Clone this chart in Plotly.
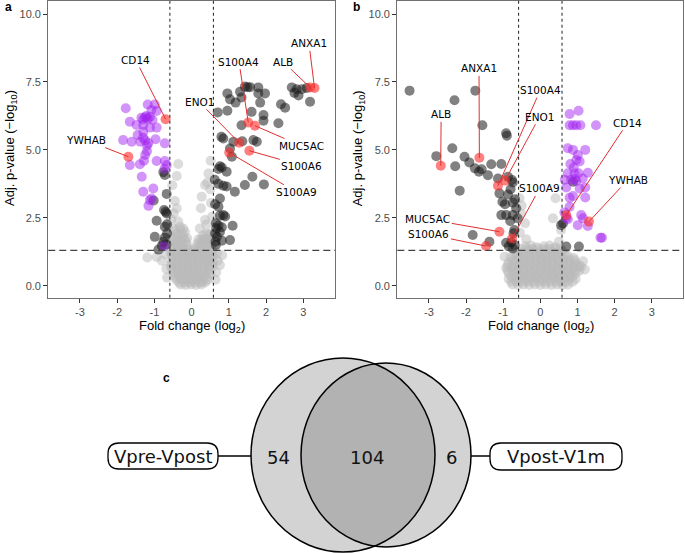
import plotly.graph_objects as go

W, H = 685, 553

# ---------------- DATA ----------------
# Panel a (Vpre-Vpost): fold change (log2), adj. p-value (-log10)
a_gray = [
    (-0.36, 4.48), (-0.40, 4.04), (0.51, 4.60), (0.45, 4.13), (0.36, 3.71), (0.42, 3.80), (0.27, 3.28),
    (-0.45, 3.12), (-0.40, 2.85), (-0.48, 2.66), (0.25, 2.85), (0.36, 2.42), (0.22, 2.11), (0.40, 2.25),
    (-0.31, 2.17), (-0.36, 2.36), (0.52, 3.05), (0.55, 2.55), (-0.55, 2.45), (0.50, 3.55), (-0.52, 3.70),
    (-0.45, 2.02), (-0.30, 2.05), (-0.18, 1.98), (0.30, 1.85), (0.45, 1.90),
    (-0.52, 1.80), (-0.38, 1.82), (-0.24, 1.78), (-0.12, 1.75), (0.18, 1.70), (0.32, 1.72), (0.46, 1.68), (0.55, 1.75),
    (-0.55, 1.60), (-0.42, 1.62), (-0.28, 1.58), (-0.15, 1.60), (0.15, 1.55), (0.28, 1.58), (0.42, 1.60), (0.55, 1.55),
    (-0.50, 1.40), (-0.36, 1.42), (-0.22, 1.38), (-0.08, 1.35), (0.10, 1.38), (0.24, 1.42), (0.38, 1.40), (0.52, 1.42),
    (-0.56, 1.22), (-0.42, 1.20), (-0.28, 1.18), (-0.14, 1.20), (0.00, 1.18), (0.14, 1.22), (0.28, 1.20), (0.42, 1.18), (0.56, 1.22),
    (-0.50, 1.00), (-0.36, 1.02), (-0.22, 0.98), (-0.08, 1.00), (0.06, 1.02), (0.20, 0.98), (0.34, 1.00), (0.48, 1.02),
    (-0.56, 0.80), (-0.42, 0.82), (-0.28, 0.78), (-0.14, 0.80), (0.00, 0.82), (0.14, 0.78), (0.28, 0.80), (0.42, 0.82), (0.56, 0.78),
    (-0.52, 0.60), (-0.38, 0.62), (-0.24, 0.58), (-0.10, 0.60), (0.04, 0.62), (0.18, 0.58), (0.32, 0.60), (0.46, 0.62),
    (-0.48, 0.40), (-0.34, 0.42), (-0.20, 0.38), (-0.06, 0.40), (0.08, 0.42), (0.22, 0.38), (0.36, 0.40), (0.50, 0.42),
    (-0.40, 0.20), (-0.26, 0.22), (-0.12, 0.18), (0.02, 0.20), (0.16, 0.22), (0.30, 0.18), (0.42, 0.20),
    (-0.30, 0.05), (-0.16, 0.03), (-0.02, 0.05), (0.12, 0.03), (0.26, 0.05),
    (-0.33, 0.12), (-0.19, 0.12), (-0.05, 0.12), (0.09, 0.12), (0.23, 0.12), (0.36, 0.12),
    (-0.44, 0.30), (-0.30, 0.30), (-0.16, 0.30), (-0.02, 0.30), (0.12, 0.30), (0.26, 0.30), (0.40, 0.30),
    (-0.50, 0.50), (-0.36, 0.50), (-0.22, 0.50), (-0.08, 0.50), (0.06, 0.50), (0.20, 0.50), (0.34, 0.50), (0.48, 0.50),
    (-0.55, 0.70), (-0.40, 0.70), (-0.26, 0.70), (-0.12, 0.70), (0.02, 0.70), (0.16, 0.70), (0.30, 0.70), (0.44, 0.70), (0.56, 0.70),
    (-0.53, 0.90), (-0.39, 0.90), (-0.25, 0.90), (-0.11, 0.90), (0.03, 0.90), (0.17, 0.90), (0.31, 0.90), (0.45, 0.90), (0.57, 0.90),
    (-0.53, 1.10), (-0.39, 1.10), (-0.25, 1.10), (-0.11, 1.10), (0.03, 1.10), (0.17, 1.10), (0.31, 1.10), (0.45, 1.10), (0.58, 1.10),
    (-0.53, 1.30), (-0.39, 1.30), (-0.25, 1.30), (-0.11, 1.30), (0.03, 1.30), (0.17, 1.30), (0.31, 1.30), (0.45, 1.30), (0.57, 1.30),
    (-0.53, 1.50), (-0.40, 1.50), (-0.26, 1.50), (-0.12, 1.50), (0.20, 1.50), (0.34, 1.50), (0.48, 1.50),
    (-0.46, 1.70), (-0.31, 1.70), (-0.18, 1.70), (0.25, 1.70), (0.39, 1.70), (0.52, 1.70),
    (-0.40, 1.90), (-0.25, 1.90), (0.38, 1.90), (0.52, 1.90), (-0.48, 2.10), (-0.22, 2.10),
    (-1.19, 1.04), (-0.94, 1.06), (-0.80, 0.92), (-0.68, 0.62), (-0.66, 0.30), (0.70, 0.92), (0.76, 0.76),
    (0.66, 0.50), (0.82, 1.12), (0.64, 0.22), (-0.70, 1.15), (0.68, 1.20),
]
a_black = [
    (-0.76, 4.18), (-0.72, 4.08), (-1.02, 3.14), (-0.67, 3.38), (-0.74, 2.79), (-0.67, 2.66), (-0.94, 2.39),
    (-0.72, 2.17), (-0.66, 2.26), (-0.99, 1.80), (-0.76, 1.62), (-0.80, 1.47), (-0.68, 1.52), (-0.89, 1.33),
    (-0.72, 1.77), (-0.66, 1.92), (-0.70, 2.72),
    (0.96, 7.08), (1.30, 7.14), (1.43, 7.33), (1.50, 7.31), (1.57, 7.31), (1.79, 7.30), (1.97, 7.08), (1.79, 7.08),
    (1.03, 6.86), (1.18, 6.74), (1.84, 6.74), (1.34, 6.93), (2.69, 7.30), (2.82, 7.23), (2.96, 7.23), (3.09, 7.28),
    (2.76, 7.10), (2.87, 7.00), (3.18, 6.77), (2.40, 6.68), (2.51, 6.55), (0.70, 6.38), (0.96, 6.44), (1.61, 6.40),
    (1.93, 6.28), (1.93, 6.07), (2.33, 5.98), (1.34, 5.91), (0.85, 5.42), (0.80, 5.48), (1.12, 5.30), (1.36, 5.32),
    (1.66, 5.36), (1.75, 5.30), (1.03, 5.05), (1.08, 4.75), (0.76, 4.40), (0.81, 4.35), (0.72, 4.30), (0.94, 4.20),
    (1.63, 4.01), (0.62, 3.90), (0.72, 3.75), (0.85, 3.68), (0.94, 3.65), (1.16, 3.46), (1.43, 3.71), (1.94, 3.73),
    (0.76, 3.21), (0.63, 3.00), (0.72, 2.91), (0.85, 2.60), (0.90, 2.55), (0.76, 2.58), (0.65, 2.30), (0.72, 2.22),
    (0.81, 2.15), (0.66, 2.12), (1.10, 2.21), (0.76, 1.98), (0.63, 1.92), (0.68, 1.80), (1.03, 1.68), (0.81, 1.66),
    (0.64, 1.62), (0.65, 1.50),
]
a_purple = [
    (-1.77, 6.53), (-1.18, 6.67), (-0.99, 6.67), (-1.08, 6.47), (-0.94, 6.43), (-1.35, 6.18), (-1.25, 6.20),
    (-1.18, 6.15), (-1.12, 6.22), (-1.30, 6.12), (-1.05, 6.10), (-1.22, 6.25), (-1.66, 6.04), (-1.48, 5.92),
    (-1.30, 5.92), (-1.12, 5.82), (-0.94, 5.82), (-1.30, 5.67), (-1.84, 5.36), (-1.61, 5.30), (-1.38, 5.30),
    (-1.25, 5.35), (-1.16, 5.25), (-1.20, 5.15), (-0.97, 5.39), (-0.72, 5.24), (-1.25, 4.81), (-1.66, 4.44),
    (-1.39, 4.47), (-0.94, 4.59), (-0.72, 4.59), (-0.67, 4.44), (-1.34, 4.01), (-1.30, 3.46), (-1.03, 3.58),
    (-1.12, 3.15), (-1.16, 2.94), (-1.08, 3.21), (-1.30, 5.45), (-1.45, 5.55), (-0.75, 1.45), (-0.73, 4.30),
    (-1.20, 4.95), (-1.28, 4.60),
]
a_red_names = ["CD14", "YWHAB", "S100A4", "MUC5AC", "ENO1", "S100A6", "S100A9", "ALB", "ANXA1"]
a_red_x = [-0.70, -1.70, 1.52, 1.70, 1.28, 1.55, 1.01, 3.18, 3.30]
a_red_y = [6.13, 4.75, 6.01, 5.89, 5.26, 4.97, 4.90, 7.30, 7.28]

# Panel b (Vpost-V1m)
b_gray = [
    (-0.56, 3.22), (-0.52, 2.66), (0.41, 3.22), (0.34, 2.48), (-0.41, 2.30), (0.56, 2.05), (-0.38, 1.71),
    (-0.55, 1.95), (0.50, 1.62), (-0.50, 2.95),
    (-0.40, 1.45), (-0.25, 1.48), (-0.10, 1.42), (0.10, 1.45), (0.25, 1.48), (0.40, 1.42),
    (-0.60, 1.25), (-0.45, 1.22), (-0.30, 1.28), (-0.15, 1.25), (0.00, 1.22), (0.15, 1.28), (0.30, 1.25), (0.45, 1.22), (0.60, 1.28),
    (-0.80, 1.05), (-0.62, 1.08), (-0.46, 1.02), (-0.30, 1.05), (-0.15, 1.08), (0.00, 1.02), (0.15, 1.05), (0.30, 1.08),
    (0.45, 1.02), (0.60, 1.05), (0.75, 1.08), (0.90, 1.02),
    (-0.85, 0.85), (-0.70, 0.88), (-0.55, 0.82), (-0.40, 0.85), (-0.25, 0.88), (-0.10, 0.82), (0.05, 0.85), (0.20, 0.88),
    (0.35, 0.82), (0.50, 0.85), (0.65, 0.88), (0.80, 0.82), (0.95, 0.85),
    (-0.92, 0.65), (-0.77, 0.68), (-0.62, 0.62), (-0.47, 0.65), (-0.32, 0.68), (-0.17, 0.62), (-0.02, 0.65), (0.13, 0.68),
    (0.28, 0.62), (0.43, 0.65), (0.58, 0.68), (0.73, 0.62), (0.88, 0.65), (1.03, 0.68), (1.10, 0.70),
    (-0.85, 0.45), (-0.70, 0.48), (-0.55, 0.42), (-0.40, 0.45), (-0.25, 0.48), (-0.10, 0.42), (0.05, 0.45), (0.20, 0.48),
    (0.35, 0.42), (0.50, 0.45), (0.65, 0.48), (0.80, 0.42), (0.95, 0.45),
    (-0.85, 0.25), (-0.70, 0.25), (-0.55, 0.28), (-0.40, 0.22), (-0.25, 0.25), (-0.10, 0.28), (0.05, 0.22), (0.20, 0.25),
    (0.35, 0.28), (0.50, 0.22), (0.65, 0.25), (0.80, 0.28), (0.95, 0.25),
    (-0.75, 0.05), (-0.60, 0.03), (-0.45, 0.05), (-0.30, 0.03), (-0.15, 0.05), (0.00, 0.03), (0.15, 0.05), (0.30, 0.03),
    (0.45, 0.05), (0.60, 0.03), (0.75, 0.05),
    (-0.78, 0.15), (-0.63, 0.15), (-0.48, 0.15), (-0.33, 0.15), (-0.18, 0.15), (-0.03, 0.15), (0.12, 0.15), (0.27, 0.15),
    (0.42, 0.15), (0.57, 0.15), (0.72, 0.15), (0.87, 0.15),
    (-0.78, 0.35), (-0.63, 0.35), (-0.48, 0.35), (-0.33, 0.35), (-0.18, 0.35), (-0.03, 0.35), (0.12, 0.35), (0.27, 0.35),
    (0.42, 0.35), (0.57, 0.35), (0.72, 0.35), (0.87, 0.35),
    (-0.88, 0.55), (-0.73, 0.55), (-0.58, 0.55), (-0.43, 0.55), (-0.28, 0.55), (-0.13, 0.55), (0.02, 0.55), (0.17, 0.55),
    (0.32, 0.55), (0.47, 0.55), (0.62, 0.55), (0.77, 0.55), (0.92, 0.55), (1.05, 0.55),
    (-0.88, 0.75), (-0.73, 0.75), (-0.58, 0.75), (-0.43, 0.75), (-0.28, 0.75), (-0.13, 0.75), (0.02, 0.75), (0.17, 0.75),
    (0.32, 0.75), (0.47, 0.75), (0.62, 0.75), (0.77, 0.75), (0.92, 0.75), (1.05, 0.75),
    (-0.75, 0.95), (-0.58, 0.95), (-0.43, 0.95), (-0.28, 0.95), (-0.13, 0.95), (0.02, 0.95), (0.17, 0.95), (0.32, 0.95),
    (0.47, 0.95), (0.62, 0.95), (0.77, 0.95), (0.92, 0.95),
    (-0.70, 1.15), (-0.53, 1.15), (-0.38, 1.15), (-0.23, 1.15), (-0.08, 1.15), (0.07, 1.15), (0.22, 1.15), (0.37, 1.15),
    (0.52, 1.15), (0.68, 1.15),
    (-0.50, 1.35), (-0.35, 1.35), (-0.20, 1.35), (-0.05, 1.35), (0.10, 1.35), (0.25, 1.35), (0.40, 1.35), (0.55, 1.35),
    (-0.96, 1.07), (1.20, 0.60), (1.15, 0.90),
]
b_black = [
    (-3.52, 7.18), (-2.31, 6.83), (-1.75, 7.18), (-1.56, 5.91), (-0.92, 5.61), (-0.90, 5.52), (-2.80, 4.77),
    (-2.37, 5.06), (-2.04, 4.75), (-1.91, 4.54), (-2.29, 4.40), (-1.76, 4.32), (-1.65, 4.20), (-1.58, 4.29),
    (-1.32, 4.47), (-1.05, 4.48), (-1.41, 4.07), (-1.14, 3.95), (-2.17, 3.50), (-0.87, 4.01), (-0.76, 3.89),
    (-0.74, 3.80), (-1.10, 3.40), (-0.87, 3.36), (-0.68, 3.18), (-1.02, 3.09), (-0.74, 3.06), (-1.05, 2.60),
    (-0.92, 2.60), (-0.74, 2.60), (-0.81, 2.38), (-0.61, 2.48), (-0.70, 2.05), (-0.72, 1.93), (-1.82, 1.87),
    (-1.37, 1.62), (-0.92, 1.58), (-0.78, 1.60), (-0.69, 1.50), (-0.74, 1.37), (-0.85, 1.45), (0.61, 2.29),
    (0.70, 1.44), (1.04, 1.44), (0.56, 2.23), (0.88, 3.83), (-0.80, 3.55), (-0.95, 3.00), (-0.65, 2.85),
]
b_purple = [
    (0.79, 6.32), (1.03, 6.44), (0.79, 5.91), (0.88, 5.91), (0.97, 5.91), (1.08, 5.91), (1.50, 5.91),
    (0.74, 5.06), (0.88, 5.00), (1.21, 5.00), (1.01, 4.81), (0.97, 4.63), (0.81, 4.48), (1.06, 4.57),
    (0.74, 4.14), (0.92, 4.14), (1.03, 4.14), (1.28, 4.16), (0.83, 3.90), (0.93, 3.92), (0.97, 3.85),
    (1.14, 3.95), (0.70, 3.62), (1.06, 3.58), (1.21, 3.62), (0.79, 3.24), (1.21, 3.25), (0.79, 2.91),
    (1.10, 2.60), (0.74, 2.45), (1.01, 2.23), (1.28, 2.20), (1.15, 2.48), (1.62, 1.77), (1.66, 1.77),
    (0.70, 2.50), (0.66, 3.90), (0.88, 3.30), (0.90, 4.35), (0.65, 2.70),
]
b_red_names = ["ALB", "ANXA1", "S100A4", "ENO1", "MUC5AC", "S100A6", "S100A9", "CD14", "YWHAB"]
b_red_x = [-2.68, -1.64, -1.14, -0.95, -1.10, -1.46, -0.76, 0.70, 1.31]
b_red_y = [4.42, 4.71, 3.68, 3.87, 1.99, 1.46, 1.74, 2.60, 2.36]

fc_cut = 0.585       # log2(1.5)
p_cut = 1.301        # -log10(0.05)

venn_sets = ["Vpre-Vpost", "Vpost-V1m"]
venn_counts = [54, 104, 6]   # only left, both, only right

x_ticks = [-3, -2, -1, 0, 1, 2, 3]
y_ticks = [0, 2.5, 5, 7.5, 10]
y_ticktext = ["0.0", "2.5", "5.0", "7.5", "10.0"]

# ---------------- LAYOUT HELPERS ----------------
def fx(px):
    return px / W

def fy(py):
    return 1 - py / H

label_pos_a = {  # text centre (data coords)
    "ANXA1": (3.15, 8.92), "ALB": (2.45, 8.25), "S100A4": (1.27, 8.25), "CD14": (-1.50, 8.31),
    "ENO1": (0.20, 6.77), "YWHAB": (-2.84, 5.36), "MUC5AC": (2.96, 5.14), "S100A6": (2.96, 4.42),
    "S100A9": (2.82, 3.44),
}
label_pos_b = {
    "ANXA1": (-1.65, 8.00), "ALB": (-2.67, 6.31), "S100A4": (0.00, 7.20), "ENO1": (-0.02, 6.22),
    "S100A9": (-0.02, 3.58), "MUC5AC": (-3.03, 2.45), "S100A6": (-3.00, 1.89), "CD14": (2.35, 6.00),
    "YWHAB": (2.35, 3.89),
}

fig = go.Figure()

def add_points(pts, xa, ya, color, opacity):
    fig.add_trace(go.Scatter(
        x=[p[0] for p in pts], y=[p[1] for p in pts], mode="markers",
        xaxis=xa, yaxis=ya, hoverinfo="skip", showlegend=False,
        marker=dict(size=10, color=color, opacity=opacity, line=dict(width=0)),
    ))

GRAY, BLACK, PURPLE, RED = "rgb(185,185,185)", "rgb(25,25,25)", "#A020F0", "#FF2A2A"

for pts_g, pts_k, pts_p, rx, ry, xa, ya in [
    (a_gray, a_black, a_purple, a_red_x, a_red_y, "x", "y"),
    (b_gray, b_black, b_purple, b_red_x, b_red_y, "x2", "y2"),
]:
    add_points(pts_g, xa, ya, GRAY, 0.5)
    add_points(pts_k, xa, ya, BLACK, 0.55)
    add_points(pts_p, xa, ya, PURPLE, 0.48)
    add_points(list(zip(rx, ry)), xa, ya, RED, 0.6)

shapes = []
annotations = []

for xa, ya in [("x", "y"), ("x2", "y2")]:
    for v in (-fc_cut, fc_cut):
        shapes.append(dict(type="line", xref=xa, yref=ya + " domain", x0=v, x1=v, y0=0, y1=1,
                           line=dict(color="#333333", width=1.1, dash="3px,3px"), layer="above"))
    shapes.append(dict(type="line", xref=xa + " domain", yref=ya, x0=0, x1=1, y0=p_cut, y1=p_cut,
                       line=dict(color="#444444", width=1.1, dash="7px,4px"), layer="above"))

LABEL_FONT = dict(family="DejaVu Sans, Verdana, sans-serif", size=10.5, color="black")
for names, rx, ry, pos, xa, ya in [
    (a_red_names, a_red_x, a_red_y, label_pos_a, "x", "y"),
    (b_red_names, b_red_x, b_red_y, label_pos_b, "x2", "y2"),
]:
    for n, px_, py_ in zip(names, rx, ry):
        tx, ty = pos[n]
        annotations.append(dict(x=px_, y=py_, xref=xa, yref=ya, ax=tx, ay=ty, axref=xa, ayref=ya,
                                text=n, showarrow=True, arrowhead=0, arrowwidth=1, arrowcolor="#E03030",
                                standoff=0, startstandoff=0, font=LABEL_FONT))

def paper_text(text, px, py, font, angle=0):
    annotations.append(dict(x=fx(px), y=fy(py), xref="paper", yref="paper", showarrow=False,
                            xanchor="center", yanchor="middle", textangle=angle, text=text, font=font))

TITLE_FONT = dict(family="Liberation Sans, Arial, sans-serif", size=13, color="black")
for cx_px, ytitle_x in [(191.6, 10), (540.5, 358.3)]:
    paper_text("Fold change (log<sub>2</sub>)", cx_px, 326, TITLE_FONT)
    paper_text("Adj. p-value (\u2212log<sub>10</sub>)", ytitle_x, 148, TITLE_FONT, angle=-90)

LETTER_FONT = dict(family="Liberation Sans, Arial, sans-serif", size=12, color="black")
for t, lx, ly in [("a", 8.5, 7), ("b", 356.5, 7), ("c", 166, 378)]:
    paper_text("<b>%s</b>" % t, lx, ly, LETTER_FONT)

# ---------------- VENN ----------------
circ_left = (251, 358, 435, 552)
circ_right = (301, 363, 471, 547)
for (x0, y0, x1, y1) in (circ_left, circ_right):
    shapes.append(dict(type="circle", xref="paper", yref="paper", x0=fx(x0), x1=fx(x1), y0=fy(y1), y1=fy(y0),
                       fillcolor="rgba(79,79,79,0.25)", line=dict(width=0), layer="above"))
for (x0, y0, x1, y1) in (circ_left, circ_right):
    shapes.append(dict(type="circle", xref="paper", yref="paper", x0=fx(x0), x1=fx(x1), y0=fy(y1), y1=fy(y0),
                       fillcolor="rgba(0,0,0,0)", line=dict(width=1.5, color="black"), layer="above"))

def rounded_box(x0, y0, x1, y1, r):
    p = []
    p.append("M %f,%f" % (fx(x0 + r), fy(y0)))
    p.append("L %f,%f" % (fx(x1 - r), fy(y0)))
    p.append("Q %f,%f %f,%f" % (fx(x1), fy(y0), fx(x1), fy(y0 + r)))
    p.append("L %f,%f" % (fx(x1), fy(y1 - r)))
    p.append("Q %f,%f %f,%f" % (fx(x1), fy(y1), fx(x1 - r), fy(y1)))
    p.append("L %f,%f" % (fx(x0 + r), fy(y1)))
    p.append("Q %f,%f %f,%f" % (fx(x0), fy(y1), fx(x0), fy(y1 - r)))
    p.append("L %f,%f" % (fx(x0), fy(y0 + r)))
    p.append("Q %f,%f %f,%f" % (fx(x0), fy(y0), fx(x0 + r), fy(y0)))
    p.append("Z")
    return " ".join(p)

boxes = [(108, 443, 218, 469), (490, 443, 622, 470)]
for (x0, y0, x1, y1) in boxes:
    shapes.append(dict(type="path", xref="paper", yref="paper", path=rounded_box(x0, y0, x1, y1, 11),
                       fillcolor="white", line=dict(color="black", width=1.3), layer="above"))
shapes.append(dict(type="line", xref="paper", yref="paper", x0=fx(218), x1=fx(251), y0=fy(456), y1=fy(456),
                   line=dict(color="black", width=1.5), layer="above"))
shapes.append(dict(type="line", xref="paper", yref="paper", x0=fx(471), x1=fx(490), y0=fy(456), y1=fy(456),
                   line=dict(color="black", width=1.5), layer="above"))

VENN_FONT = dict(family="DejaVu Sans, Verdana, sans-serif", size=18, color="#111111")
for name, (x0, y0, x1, y1) in zip(venn_sets, boxes):
    paper_text(name, (x0 + x1) / 2, (y0 + y1) / 2, VENN_FONT)
for cnt, cx in zip(venn_counts, (278.3, 366.7, 451.7)):
    paper_text(str(cnt), cx, 457, VENN_FONT)

# ---------------- AXES ----------------
TICK_FONT = dict(family="Liberation Sans, Arial, sans-serif", size=11, color="#4d4d4d")
common_x = dict(range=[-3.85, 3.85], tickvals=x_ticks, ticktext=[str(t) for t in x_ticks],
                showgrid=False, zeroline=False, showline=True, mirror=True, linecolor="#707070",
                linewidth=1.3, ticks="outside", ticklen=4, tickcolor="#333333", tickfont=TICK_FONT)
common_y = dict(range=[-0.44, 10.48], tickvals=y_ticks, ticktext=y_ticktext,
                showgrid=False, zeroline=False, showline=True, mirror=True, linecolor="#707070",
                linewidth=1.3, ticks="outside", ticklen=4, tickcolor="#333333", tickfont=TICK_FONT)
ydom = [fy(297.7), fy(1)]

fig.update_layout(
    width=W, height=H, autosize=False,
    margin=dict(l=0, r=0, t=0, b=0, pad=0),
    paper_bgcolor="white", plot_bgcolor="white",
    xaxis=dict(domain=[fx(48.3), fx(335)], anchor="y", **common_x),
    yaxis=dict(domain=ydom, anchor="x", **common_y),
    xaxis2=dict(domain=[fx(397.3), fx(683.3)], anchor="y2", **common_x),
    yaxis2=dict(domain=ydom, anchor="x2", **common_y),
    shapes=shapes, annotations=annotations,
)

fig.write_html("out.html", config={"displayModeBar": False},
               post_script="document.body.style.margin='0';document.body.style.overflow='hidden';")
